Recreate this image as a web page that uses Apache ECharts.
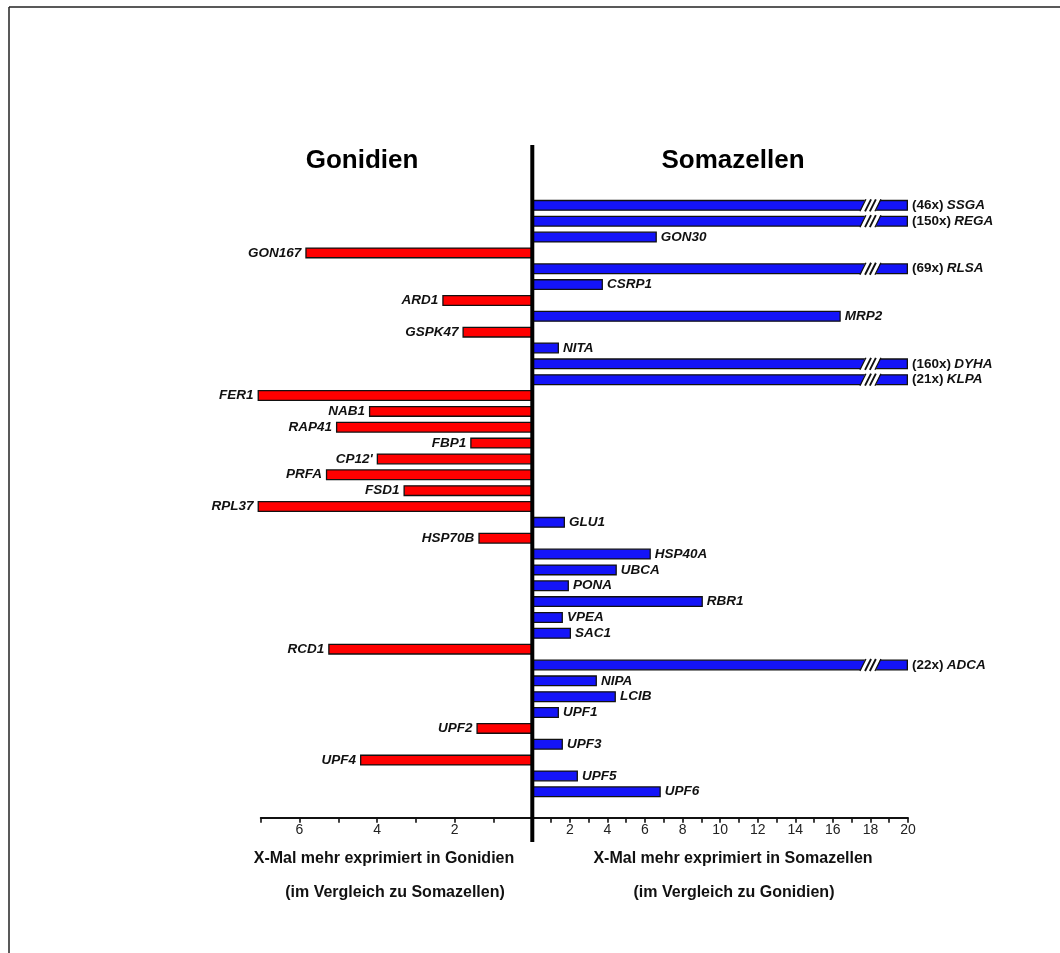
<!DOCTYPE html>
<html>
<head>
<meta charset="utf-8">
<title>Gonidien / Somazellen</title>
<script src="https://cdn.jsdelivr.net/npm/echarts@6/dist/echarts.min.js"></script>
<style>
html, body { margin: 0; padding: 0; background: #fff; }
#chart { width: 1060px; height: 953px; }
</style>
</head>
<body>
<div id="chart"></div>
<script>
// Reihen von oben nach unten
var genes = ['SSGA', 'REGA', 'GON30', 'GON167', 'RLSA', 'CSRP1', 'ARD1', 'MRP2', 'GSPK47', 'NITA',
    'DYHA', 'KLPA', 'FER1', 'NAB1', 'RAP41', 'FBP1', "CP12'", 'PRFA', 'FSD1', 'RPL37',
    'GLU1', 'HSP70B', 'HSP40A', 'UBCA', 'PONA', 'RBR1', 'VPEA', 'SAC1', 'RCD1', 'ADCA',
    'NIPA', 'LCIB', 'UPF1', 'UPF2', 'UPF3', 'UPF4', 'UPF5', 'UPF6'];

// x-fach mehr exprimiert in Gonidien (links)
var gonidienFold = [null, null, null, 5.85, null, null, 2.32, null, 1.80, null,
    null, null, 7.08, 4.21, 5.06, 1.60, 4.01, 5.32, 3.32, 7.08,
    null, 1.39, null, null, null, null, null, null, 5.26, null,
    null, null, null, 1.44, null, 4.44, null, null];

// x-fach mehr exprimiert in Somazellen (rechts), Werte > 20 werden abgeschnitten
var somaFold = [46, 150, 6.63, null, 69, 3.76, null, 16.42, null, 1.42,
    160, 21, null, null, null, null, null, null, null, null,
    1.74, null, 6.31, 4.5, 1.95, 9.08, 1.63, 2.06, null, 22,
    3.44, 4.45, 1.42, null, 1.63, null, 2.43, 6.84];

var leftTicks = [2, 4, 6];
var rightTicks = [2, 4, 6, 8, 10, 12, 14, 16, 18, 20];
var leftMax = 7;
var rightMax = 20;
var breakAt = 18;

var red = '#ff0000';
var blue = '#1414f8';
var font = '"Liberation Sans", Arial, sans-serif';

var somaData = [];
var breakData = [];
for (var i = 0; i < somaFold.length; i++) {
    var v = somaFold[i];
    if (v == null) {
        somaData.push(null);
    } else {
        somaData.push({ value: Math.min(v, rightMax), fold: v });
        if (v > rightMax) breakData.push([breakAt, i]);
    }
}

var chart = echarts.init(document.getElementById('chart'));

function axisCommon(ticks) {
    return {
        type: 'value',
        min: 0,
        interval: 1,
        offset: 18,
        splitLine: { show: false },
        axisLine: { show: true, lineStyle: { color: '#111', width: 1.8 } },
        axisTick: { show: true, length: 5, lineStyle: { color: '#111', width: 1.6 } },
        axisLabel: {
            color: '#222',
            fontSize: 14,
            fontFamily: font,
            margin: 5,
            formatter: function (val) {
                return ticks.indexOf(val) >= 0 ? String(val) : '';
            }
        }
    };
}

var xLeft = axisCommon(leftTicks);
xLeft.gridIndex = 0;
xLeft.max = leftMax;
xLeft.inverse = true;
var xRight = axisCommon(rightTicks);
xRight.gridIndex = 1;
xRight.max = rightMax;

var option = {
    animation: false,
    backgroundColor: '#fff',
    grid: [
        { left: 260.7, right: 527.7, top: 197.4, bottom: 153.3 },
        { left: 532.3, right: 152, top: 197.4, bottom: 153.3 }
    ],
    xAxis: [xLeft, xRight],
    yAxis: [
        { type: 'category', gridIndex: 0, data: genes, inverse: true, show: false },
        { type: 'category', gridIndex: 1, data: genes, inverse: true, show: false }
    ],
    series: [
        {
            name: 'Gonidien',
            type: 'bar',
            xAxisIndex: 0,
            yAxisIndex: 0,
            data: gonidienFold,
            barWidth: 11,
            clip: false,
            itemStyle: { color: red, borderColor: '#111', borderWidth: 1.3 },
            label: {
                show: true,
                position: 'left',
                distance: 4,
                color: '#111',
                fontFamily: font,
                fontSize: 13.5,
                fontWeight: 'bold',
                fontStyle: 'italic',
                formatter: function (p) { return p.name; }
            }
        },
        {
            name: 'Somazellen',
            type: 'bar',
            xAxisIndex: 1,
            yAxisIndex: 1,
            data: somaData,
            barWidth: 11,
            clip: false,
            itemStyle: { color: blue, borderColor: '#111', borderWidth: 1.3 },
            label: {
                show: true,
                position: 'right',
                distance: 4,
                color: '#111',
                fontFamily: font,
                formatter: function (p) {
                    if (p.data && p.data.fold > rightMax) {
                        return '{n|(' + p.data.fold + 'x)} {g|' + p.name + '}';
                    }
                    return '{g|' + p.name + '}';
                },
                rich: {
                    n: { fontFamily: font, fontSize: 13.5, fontWeight: 'bold', color: '#111' },
                    g: { fontFamily: font, fontSize: 13.5, fontWeight: 'bold', fontStyle: 'italic', color: '#111' }
                }
            }
        },
        {
            // Achsenbruch "//" auf den langen Balken
            name: 'break',
            type: 'custom',
            xAxisIndex: 1,
            yAxisIndex: 1,
            z: 5,
            data: breakData,
            renderItem: function (params, api) {
                var c = api.coord([api.value(0), api.value(1)]);
                var x = c[0], y = c[1];
                var hh = 6.5, w = 7.5, s = 3;
                var slash = function (dx, lw) {
                    return {
                        type: 'line',
                        shape: { x1: x + dx - s, y1: y + hh - 0.5, x2: x + dx + s, y2: y - hh + 0.5 },
                        style: { stroke: '#111', lineWidth: lw }
                    };
                };
                return {
                    type: 'group',
                    children: [
                        {
                            type: 'polygon',
                            shape: { points: [[x - w - s, y + hh + 1], [x - w + s, y - hh - 1], [x + w + s, y - hh - 1], [x + w - s, y + hh + 1]] },
                            style: { fill: '#fff' }
                        },
                        slash(-w, 1.3),
                        slash(-2.4, 1.9),
                        slash(2.4, 1.9),
                        slash(w, 1.3)
                    ]
                };
            }
        }
    ],
    graphic: [
        { type: 'line', shape: { x1: 9, y1: 7, x2: 1060, y2: 7 }, style: { stroke: '#222', lineWidth: 1.5 } },
        { type: 'line', shape: { x1: 9, y1: 7, x2: 9, y2: 953 }, style: { stroke: '#222', lineWidth: 1.5 } },
        { type: 'rect', shape: { x: 530.3, y: 145, width: 4, height: 697 }, style: { fill: '#000' }, z: 10 },
        { type: 'text', x: 362, y: 161, style: { text: 'Gonidien', font: 'bold 26px ' + font, fill: '#000', textAlign: 'center', textVerticalAlign: 'middle' } },
        { type: 'text', x: 733, y: 161, style: { text: 'Somazellen', font: 'bold 26px ' + font, fill: '#000', textAlign: 'center', textVerticalAlign: 'middle' } },
        { type: 'text', x: 384, y: 859, style: { text: 'X-Mal mehr exprimiert in Gonidien', font: 'bold 16px ' + font, fill: '#111', textAlign: 'center', textVerticalAlign: 'middle' } },
        { type: 'text', x: 395, y: 893, style: { text: '(im Vergleich zu Somazellen)', font: 'bold 16px ' + font, fill: '#111', textAlign: 'center', textVerticalAlign: 'middle' } },
        { type: 'text', x: 733, y: 859, style: { text: 'X-Mal mehr exprimiert in Somazellen', font: 'bold 16px ' + font, fill: '#111', textAlign: 'center', textVerticalAlign: 'middle' } },
        { type: 'text', x: 734, y: 893, style: { text: '(im Vergleich zu Gonidien)', font: 'bold 16px ' + font, fill: '#111', textAlign: 'center', textVerticalAlign: 'middle' } }
    ]
};

chart.setOption(option);
</script>
</body>
</html>
